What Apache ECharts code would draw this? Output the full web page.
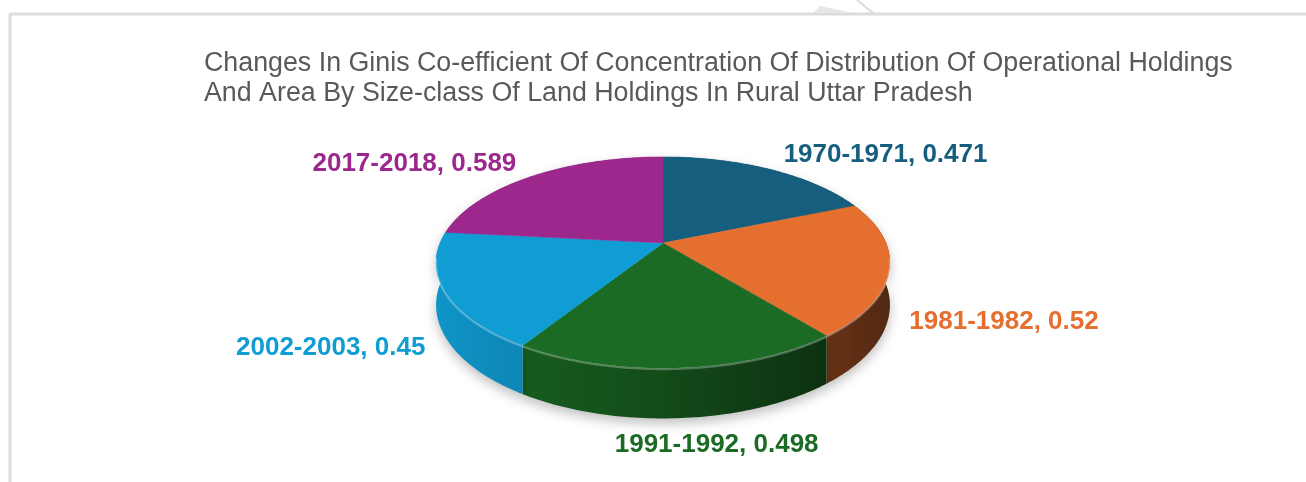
<!DOCTYPE html>
<html>
<head>
<meta charset="utf-8">
<title>Gini co-efficient, rural Uttar Pradesh</title>
<script src="https://cdn.jsdelivr.net/npm/echarts@6/dist/echarts.min.js"></script>
<style>
  html, body { margin: 0; padding: 0; background: #fff; }
  #main { width: 1306px; height: 482px; }
</style>
</head>
<body>
<div id="main"></div>
<script>
// data
var years = ['1970-1971', '1981-1982', '1991-1992', '2002-2003', '2017-2018'];
var gini = [0.471, 0.52, 0.498, 0.45, 0.589];
var labelValues = ['0.471', '0.52', '0.498', '0.45', '0.589'];
var sliceColors = ['#165e7e', '#e46f2f', '#1b6b24', '#109dd3', '#9c288e'];

// fake 3D pie: tilted disc seen in perspective
var CX = 663, CY = 243;      // projected centre of the disc
var RX = 223, RY = 102;      // half axes before perspective
var K = 0.185;               // perspective strength
var H = 41;                  // thickness of the disc

function proj(theta, r) {
    var u = r * Math.sin(theta), v = r * Math.cos(theta);
    var d = 1 + K * v;
    return [CX + RX * u / d, CY - RY * v / d, d];
}

function shade(hex, f) {
    var n = parseInt(hex.slice(1), 16);
    var r = Math.round(((n >> 16) & 255) * f);
    var g = Math.round(((n >> 8) & 255) * f);
    var b = Math.round((n & 255) * f);
    return 'rgb(' + r + ',' + g + ',' + b + ')';
}

function renderSlice(params, api) {
    var i = params.dataIndex;
    var total = 0, before = 0;
    for (var j = 0; j < gini.length; j++) {
        total += gini[j];
        if (j < i) before += gini[j];
    }
    var a0 = before / total * Math.PI * 2;
    var a1 = a0 + api.value(0) / total * Math.PI * 2;
    var steps = Math.max(8, Math.ceil((a1 - a0) / (Math.PI / 180)));
    var top = [[CX, CY]], rim = [], bottom = [], front = [];
    for (var s = 0; s <= steps; s++) {
        var t = a0 + (a1 - a0) * s / steps;
        var p = proj(t, 1);
        top.push([p[0], p[1]]);
        rim.push([p[0], p[1]]);
        bottom.push([p[0], p[1] + H / p[2]]);
        if (Math.cos(t) < -0.12) front.push([p[0], p[1] + 1]);
    }
    var wall = rim.concat(bottom.reverse());
    var col = sliceColors[i];

    var children = [
        {
            type: 'polygon',
            z2: 1,
            shape: { points: wall },
            style: {
                fill: {
                    type: 'linear', x: CX - 227, y: 0, x2: CX + 227, y2: 0, global: true,
                    colorStops: [
                        { offset: 0, color: shade(col, 0.95) },
                        { offset: 0.5, color: shade(col, 0.7) },
                        { offset: 1, color: shade(col, 0.36) }
                    ]
                },
                shadowBlur: 12,
                shadowColor: 'rgba(0,0,0,0.25)',
                shadowOffsetY: 5
            }
        },
        {
            type: 'polygon',
            z2: 10,
            shape: { points: top },
            style: { fill: col, stroke: col, lineWidth: 0.5 }
        }
    ];
    if (front.length > 1) {
        children.push({
            type: 'polyline',
            z2: 11,
            shape: { points: front },
            style: { stroke: 'rgba(255,255,255,0.28)', lineWidth: 2, fill: null }
        });
    }

    // label outside the slice, pushed away from the disc centre
    var mid = (a0 + a1) / 2;
    var isFront = Math.cos(mid) < 0;
    var lp = proj(mid, 1);
    var ly = lp[1] + (isFront ? H / lp[2] : 0);
    var dx = lp[0] - CX, dy = ly - 280;
    var len = Math.sqrt(dx * dx + dy * dy);
    dx /= len; dy /= len;
    var align = dx > 0.3 ? 'left' : (dx < -0.3 ? 'right' : 'center');
    children.push({
        type: 'text',
        z2: 20,
        x: lp[0] + dx * 20 + (align === 'center' ? 35 : 0),
        y: ly + dy * 20 + (isFront ? 7 : 0),
        style: {
            text: years[i] + ', ' + labelValues[i],
            fill: col,
            font: 'bold 26px "Liberation Sans", Arial, sans-serif',
            align: align,
            verticalAlign: 'middle'
        }
    });
    return { type: 'group', children: children };
}

var chart = echarts.init(document.getElementById('main'));
var option = {
    animation: false,
    backgroundColor: '#ffffff',
    title: {
        text: 'Changes In Ginis Co-efficient Of Concentration Of Distribution Of Operational Holdings\nAnd Area By Size-class Of Land Holdings In Rural Uttar Pradesh',
        left: 199,
        top: 44,
        textStyle: {
            fontFamily: '"Liberation Sans", Arial, sans-serif',
            fontSize: 26.8,
            fontWeight: 'normal',
            color: '#595959',
            lineHeight: 30
        }
    },
    graphic: [
        { type: 'line', shape: { x1: 9, y1: 14, x2: 1306, y2: 14 }, style: { stroke: '#dcdcdc', lineWidth: 3 } },
        { type: 'line', shape: { x1: 10, y1: 14, x2: 10, y2: 482 }, style: { stroke: '#dcdcdc', lineWidth: 3 } },
        { type: 'polygon', shape: { points: [[813, 13], [820, 6], [853, 13]] }, style: { fill: '#e6e6e6' } },
        { type: 'line', shape: { x1: 857, y1: 0, x2: 873, y2: 13 }, style: { stroke: '#dcdcdc', lineWidth: 2 } }
    ],
    series: [
        {
            type: 'custom',
            coordinateSystem: 'none',
            renderItem: renderSlice,
            data: gini
        }
    ]
};
chart.setOption(option);
</script>
</body>
</html>
